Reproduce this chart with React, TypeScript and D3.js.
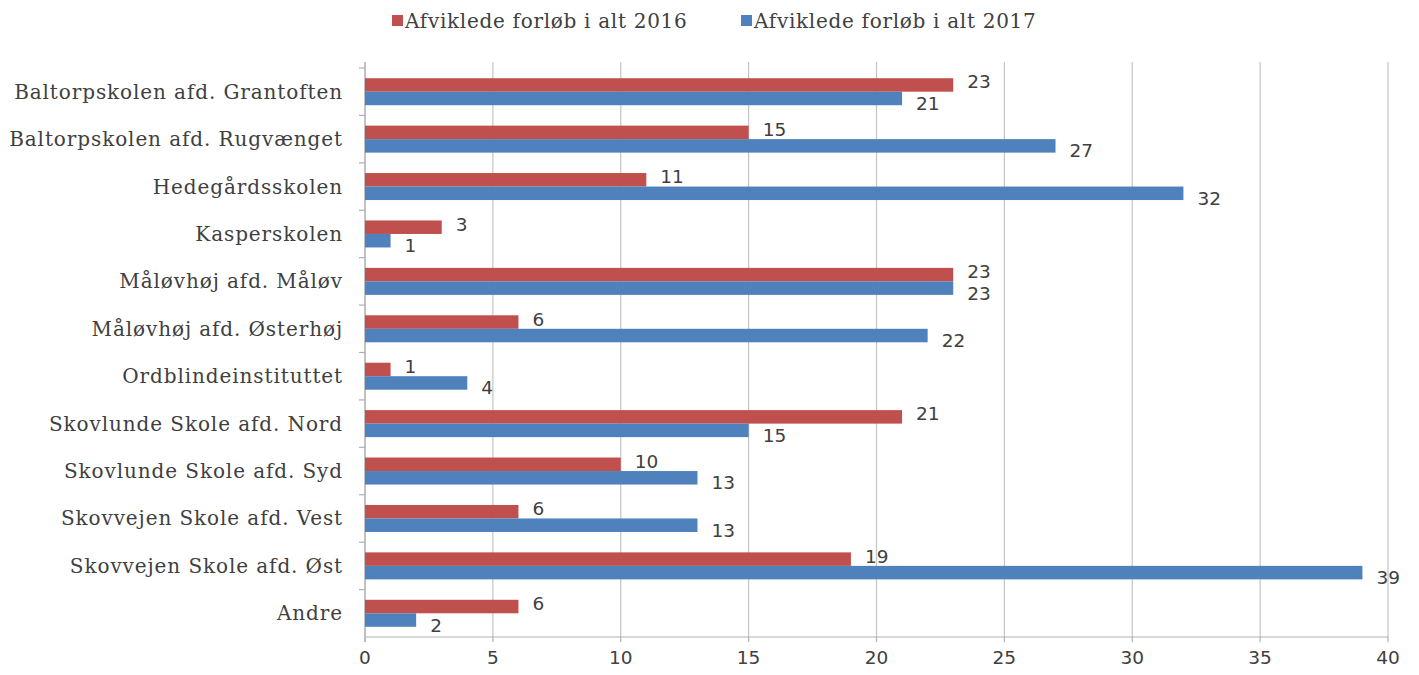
import React from "react";
import * as d3 from "d3";

const categories = [
  "Baltorpskolen afd. Grantoften",
  "Baltorpskolen afd. Rugvænget",
  "Hedegårdsskolen",
  "Kasperskolen",
  "Måløvhøj afd. Måløv",
  "Måløvhøj afd. Østerhøj",
  "Ordblindeinstituttet",
  "Skovlunde Skole afd. Nord",
  "Skovlunde Skole afd. Syd",
  "Skovvejen Skole afd. Vest",
  "Skovvejen Skole afd. Øst",
  "Andre",
];
const values2016 = [23, 15, 11, 3, 23, 6, 1, 21, 10, 6, 19, 6];
const values2017 = [21, 27, 32, 1, 23, 22, 4, 15, 13, 13, 39, 2];
const seriesNames = ["Afviklede forløb i alt 2016", "Afviklede forløb i alt 2017"];
const xTicks = [0, 5, 10, 15, 20, 25, 30, 35, 40];

const W = 1419;
const H = 675;
const left = 365;
const right = 1388;
const top = 68;
const bottom = 637;
const RED = "#C0504D";
const BLUE = "#4F81BD";
const TXT = "#404040";
const LABEL_FONT = "'DejaVu Serif', serif";
const NUM_FONT = "'DejaVu Sans', sans-serif";

export default function App() {
  const x = d3.scaleLinear().domain([0, 40]).range([left, right]);
  const y = d3.scaleBand<string>().domain(categories).range([top, bottom]);
  const bw = y.bandwidth();
  const barH = 13.5;

  return (
    <svg width={W} height={H} style={{ display: "block", position: "absolute", left: 0, top: 0 }}>
      <rect width={W} height={H} fill="#fff" />
      {xTicks.map((t) => (
        <line key={"g" + t} x1={x(t)} x2={x(t)} y1={62} y2={bottom} stroke="#c4c4c4" strokeWidth={1.2} />
      ))}
      <line x1={left} x2={left} y1={62} y2={bottom + 5} stroke="#b0b0b0" strokeWidth={1.2} />
      {categories.map((c, i) => (
        <line key={"lt" + i} x1={left - 6} x2={left} y1={y(c)!} y2={y(c)!} stroke="#b0b0b0" strokeWidth={1.2} />
      ))}
      <line x1={left} x2={right} y1={bottom} y2={bottom} stroke="#b0b0b0" strokeWidth={1.2} />
      {xTicks.map((t) => (
        <g key={"t" + t}>
          <line x1={x(t)} x2={x(t)} y1={bottom} y2={bottom + 5} stroke="#b0b0b0" strokeWidth={1.2} />
          <text x={x(t)} y={bottom + 27} textAnchor="middle" fontSize={18.5} fill={TXT} fontFamily={NUM_FONT}>
            {t}
          </text>
        </g>
      ))}
      {categories.map((c, i) => {
        const cy = y(c)! + bw / 2;
        return (
          <g key={"b" + i}>
            <rect x={x(0)} y={cy - barH} width={x(values2016[i]) - x(0)} height={barH} fill={RED} />
            <rect x={x(0)} y={cy} width={x(values2017[i]) - x(0)} height={barH} fill={BLUE} />
            <text x={x(values2016[i]) + 14} y={cy - barH / 2 - 3} dy="0.35em" fontSize={18.5} fill={TXT} fontFamily={NUM_FONT}>
              {values2016[i]}
            </text>
            <text x={x(values2017[i]) + 14} y={cy + barH / 2 + 5} dy="0.35em" fontSize={18.5} fill={TXT} fontFamily={NUM_FONT}>
              {values2017[i]}
            </text>
            <text x={343} y={cy} dy="0.35em" textAnchor="end" fontSize={20} letterSpacing={0.9} fill={TXT} fontFamily={LABEL_FONT}>
              {c}
            </text>
          </g>
        );
      })}
      <rect x={392} y={15} width={11} height={11} fill={RED} />
      <text x={405} y={21} dy="0.35em" fontSize={20} letterSpacing={0.7} fill={TXT} fontFamily={LABEL_FONT}>{seriesNames[0]}</text>
      <rect x={741} y={15} width={11} height={11} fill={BLUE} />
      <text x={754} y={21} dy="0.35em" fontSize={20} letterSpacing={0.7} fill={TXT} fontFamily={LABEL_FONT}>{seriesNames[1]}</text>
    </svg>
  );
}
